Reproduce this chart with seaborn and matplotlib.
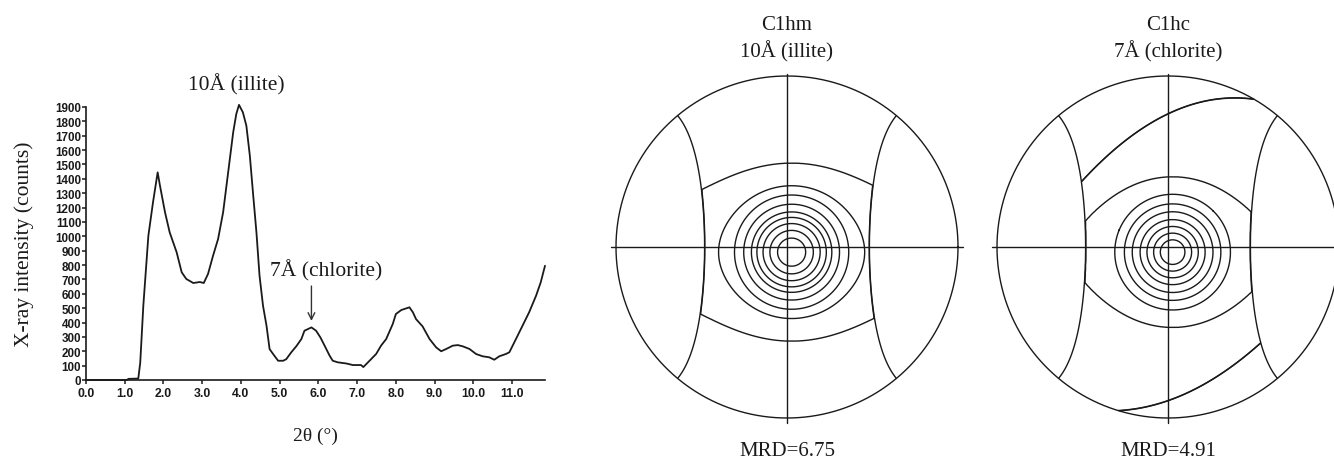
import numpy as np
import pandas as pd
import matplotlib
matplotlib.use("Agg")
import matplotlib.pyplot as plt
import seaborn as sns

# ---------------- X-ray diffraction pattern ----------------
two_theta = [0.0, 1.05, 1.10, 1.35, 1.40, 1.48, 1.61, 1.73, 1.85, 1.91, 2.04, 2.16,
             2.34, 2.47, 2.59, 2.77, 2.94, 3.04, 3.15, 3.28, 3.41, 3.54, 3.67, 3.80,
             3.88, 3.95, 4.05, 4.14, 4.23, 4.31, 4.40, 4.48, 4.57, 4.66, 4.74, 4.83,
             4.96, 5.09, 5.17, 5.30, 5.43, 5.56, 5.64, 5.82, 5.94, 6.05, 6.16, 6.29,
             6.37, 6.50, 6.72, 6.89, 7.10, 7.16, 7.32, 7.49, 7.62, 7.75, 7.92, 8.00,
             8.14, 8.35, 8.44, 8.52, 8.69, 8.87, 9.04, 9.17, 9.30, 9.47, 9.60, 9.73,
             9.90, 10.07, 10.24, 10.41, 10.54, 10.67, 10.84, 10.93, 11.10, 11.27,
             11.44, 11.62, 11.74, 11.85]
intensity = [0, 0, 8, 10, 120, 517, 1004, 1237, 1445, 1352, 1167, 1028,
             889, 750, 703, 675, 682, 675, 738, 865, 981, 1167, 1445, 1724,
             1851, 1915, 1863, 1770, 1561, 1306, 1028, 726, 517, 378, 215, 181,
             134, 134, 145, 193, 235, 285, 343, 366, 343, 297, 239, 169,
             134, 123, 115, 104, 104, 90, 134, 181, 240, 285, 390, 459,
             487, 506, 471, 424, 373, 285, 227, 200, 216, 239, 243, 234,
             216, 181, 165, 158, 141, 165, 181, 193, 285, 378,
             471, 587, 680, 795]

x_tick_values = [0.0, 1.0, 2.0, 3.0, 4.0, 5.0, 6.0, 7.0, 8.0, 9.0, 10.0, 11.0]
y_tick_values = list(range(0, 2000, 100))

illite_label = "10Å (illite)"
illite_label_pos = (3.89, 2060)
chlorite_label = "7Å (chlorite)"
chlorite_label_pos = (6.19, 765)
chlorite_arrow_x = 5.82
chlorite_arrow_from = 654
chlorite_arrow_to = 411

# ---------------- pole figures ----------------
pole_names = ["C1hm", "C1hc"]
pole_peaks = ["10Å (illite)", "7Å (chlorite)"]
mrd_max = [6.75, 4.91]

# radial MRD profile (radius in projection units, 1 = rim)
hm_ring_radius = [0.0, 0.082, 0.127, 0.167, 0.203, 0.235, 0.28, 0.334, 0.388, 0.52, 1.0]
hm_ring_mrd = [6.75, 5.5, 5.0, 4.5, 4.0, 3.5, 3.0, 2.5, 2.0, 1.5, 1.2]
hm_levels = [1.0, 1.5, 2.0, 2.5, 3.0, 3.5, 4.0, 4.5, 5.0, 5.5]
hm_outer_mrd = 0.6

hc_ring_radius = [0.0, 0.072, 0.111, 0.15, 0.19, 0.236, 0.282, 0.338, 0.44, 1.0]
hc_ring_mrd = [4.91, 4.45, 4.0, 3.55, 3.1, 2.65, 2.2, 1.75, 1.3, 1.0]
hc_levels = [0.4, 0.85, 1.3, 1.75, 2.2, 2.65, 3.1, 3.55, 4.0, 4.45]
hc_outer_mrd = 0.6

# |n_x| at which the girdle density falls off
girdle_cut = 0.64
# low-density polar caps of C1hc: boundary polynomials Y(X) = c0 + c1*X + c2*X^2
hc_cap_top = [0.78, 0.476, -0.608]
hc_cap_bottom = [-0.90, 0.348, 0.507]
hc_cap_mrd = 0.2

W, H = 1334, 460
INK = "#1a1a1a"

sns.set_theme(style="ticks")
plt.rcParams["font.family"] = ["Liberation Serif", "DejaVu Serif"]

fig = plt.figure(figsize=(W / 100, H / 100), dpi=100)
fig.patch.set_facecolor("white")

# ---- diffraction pattern axes ----
ax = fig.add_axes([86 / W, 1 - 381 / H, (545 - 86) / W, (381 - 108) / H])
df = pd.DataFrame({"2theta": two_theta, "counts": intensity})
sns.lineplot(data=df, x="2theta", y="counts", ax=ax, color=INK,
             linewidth=1.3, clip_on=False)
ax.set_xlim(0, 11.85)
ax.set_ylim(0, 1900)
for side in ("top", "right"):
    ax.spines[side].set_visible(False)
for side in ("left", "bottom"):
    ax.spines[side].set_color(INK)
    ax.spines[side].set_linewidth(1.2)
ax.set_xticks(x_tick_values)
ax.set_xticklabels([f"{v:.1f}" for v in x_tick_values],
                   fontfamily="Liberation Sans", fontweight="bold", fontsize=8.8)
ax.set_yticks(y_tick_values)
ax.set_yticklabels([str(v) for v in y_tick_values],
                   fontfamily="Liberation Sans", fontweight="bold", fontsize=8.4)
ax.tick_params(axis="both", direction="out", length=3, width=1.1,
               color=INK, labelcolor=INK)
ax.tick_params(axis="y", pad=0.5)
ax.tick_params(axis="x", pad=2)
ax.set_xlabel("2θ (°)", fontsize=14, labelpad=20, color=INK)
ax.set_ylabel("X-ray intensity (counts)", fontsize=15.5, labelpad=15, color=INK)
ax.set_facecolor("white")
ax.grid(False)

ax.text(*illite_label_pos, illite_label, fontsize=15.5, ha="center", va="center",
        color=INK, clip_on=False)
ax.text(*chlorite_label_pos, chlorite_label, fontsize=15.5, ha="center", va="center",
        color=INK, clip_on=False)
ax.annotate("", xy=(chlorite_arrow_x, chlorite_arrow_to),
            xytext=(chlorite_arrow_x, chlorite_arrow_from),
            arrowprops=dict(arrowstyle="->", color="#333333", lw=1.0,
                            shrinkA=0, shrinkB=0))


# ---- pole figures ----
def pole_field(X, Y, radii, mrd, outer, cap=None):
    r2 = X ** 2 + Y ** 2
    # equal-area projection -> direction cosine along x
    nx = X * np.sqrt(np.clip(2 - r2, 0, None))
    dx, dy = X - 0.027, Y + 0.03
    # outer contours widen sideways
    stretch = 1 + 1.5 * np.clip(np.hypot(dx, dy) - 0.36, 0, None)
    rho = np.hypot(dx / stretch, dy)
    band = np.interp(rho, radii, mrd)
    if cap is not None:
        top, bottom, cap_mrd = cap
        dist = np.minimum(np.polyval(top[::-1], X) - Y, Y - np.polyval(bottom[::-1], X))
        band = np.minimum(band, np.maximum(cap_mrd, cap_mrd + 300 * dist))
    # sharp fall-off of the girdle towards the x pole
    w = np.clip(300 * (girdle_cut - np.abs(nx)) + 0.5, 0, 1)
    field = w * band + (1 - w) * outer
    return np.where(r2 <= 1.0, field, np.nan)


grid = np.linspace(-1.0, 1.0, 1201)
GX, GY = np.meshgrid(grid, grid)

centers = [(787, 248), (1168, 248)]
R_PX = 171
BOX = 195
fields = [
    (hm_ring_radius, hm_ring_mrd, hm_levels, hm_outer_mrd, None),
    (hc_ring_radius, hc_ring_mrd, hc_levels, hc_outer_mrd,
     (hc_cap_top, hc_cap_bottom, hc_cap_mrd)),
]

for (cx, cy), name, peak, mx, (radii, mrd, levels, outer, cap) in zip(
        centers, pole_names, pole_peaks, mrd_max, fields):
    pax = fig.add_axes([(cx - BOX) / W, 1 - (cy + BOX) / H, 2 * BOX / W, 2 * BOX / H])
    lim = BOX / R_PX
    pax.set_xlim(-lim, lim)
    pax.set_ylim(-lim, lim)
    pax.set_aspect("equal")
    pax.axis("off")

    Z = pole_field(GX, GY, radii, mrd, outer, cap)
    pax.contour(GX, GY, Z, levels=levels, colors=INK, linewidths=1.0)

    theta = np.linspace(0, 2 * np.pi, 721)
    pax.plot(np.cos(theta), np.sin(theta), color=INK, lw=1.0)
    pax.plot([-1.03, 1.03], [0, 0], color=INK, lw=1.0)
    pax.plot([0, 0], [-1.03, 1.01], color=INK, lw=1.0)

    fig.text(cx / W, 1 - 25 / H, name, ha="center", va="center", fontsize=15,
             color=INK)
    fig.text(cx / W, 1 - 52 / H, peak, ha="center", va="center", fontsize=15,
             color=INK)
    fig.text(cx / W, 1 - 452 / H, f"MRD={mx:.2f}", ha="center", va="center",
             fontsize=15, color=INK)

fig.savefig("out.png", dpi=100, facecolor="white")
